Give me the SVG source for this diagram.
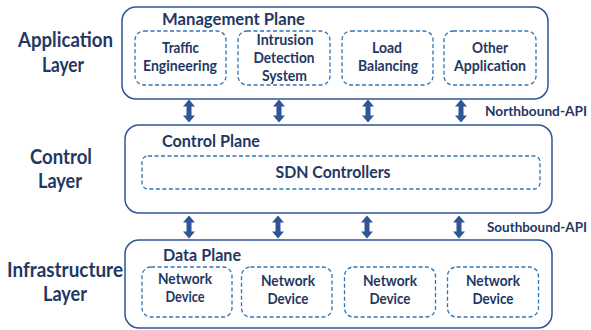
<svg xmlns="http://www.w3.org/2000/svg" width="591" height="330" viewBox="0 0 591 330">
<defs>
<style>
.outer{fill:#fff;stroke:#2F5597;stroke-width:1.5}
.inner{fill:#fff;stroke:#2E75B6;stroke-width:1.3;stroke-dasharray:4 2.5}
.t{font-family:Lato,"Open Sans","Liberation Sans",sans-serif;font-weight:bold;fill:#1F3864}
.layer{font-size:20px;text-anchor:middle}
.plane{font-size:17px}
.node{font-size:15px;text-anchor:middle}
.api{font-size:13.5px}
.arrow{fill:#2F5597}
</style>
<path id="dbl" class="arrow" d="M0,-11.5 L6,-4.5 L2.5,-4.5 L2.5,4.5 L6,4.5 L0,11.5 L-6,4.5 L-2.5,4.5 L-2.5,-4.5 L-6,-4.5 Z"/>
</defs>
<rect width="591" height="330" fill="#fff"/>

<g id="labels">
<text class="t layer" x="65.5" y="47" textLength="95" lengthAdjust="spacingAndGlyphs">Application</text>
<text class="t layer" x="63" y="72" textLength="42" lengthAdjust="spacingAndGlyphs">Layer</text>
<text class="t layer" x="61" y="164" textLength="62" lengthAdjust="spacingAndGlyphs">Control</text>
<text class="t layer" x="60" y="188" textLength="44" lengthAdjust="spacingAndGlyphs">Layer</text>
<text class="t layer" x="65" y="277" textLength="116" lengthAdjust="spacingAndGlyphs">Infrastructure</text>
<text class="t layer" x="65" y="301" textLength="44" lengthAdjust="spacingAndGlyphs">Layer</text>
<text class="t api" x="485" y="116" textLength="102" lengthAdjust="spacingAndGlyphs">Northbound-API</text>
<text class="t api" x="487" y="232" textLength="100" lengthAdjust="spacingAndGlyphs">Southbound-API</text>
</g>

<g id="management-plane">
<rect class="outer" x="122" y="7" width="426" height="92" rx="14"/>
<text class="t plane" x="162" y="25" textLength="143" lengthAdjust="spacingAndGlyphs">Management Plane</text>
</g>
<g id="traffic-engineering">
<rect class="inner" x="135" y="31" width="91" height="54" rx="9"/>
<text class="t node" x="180.5" y="53" textLength="37" lengthAdjust="spacingAndGlyphs">Traffic</text>
<text class="t node" x="180" y="71" textLength="74" lengthAdjust="spacingAndGlyphs">Engineering</text>
</g>
<g id="intrusion-detection">
<rect class="inner" x="238" y="31" width="92" height="54" rx="9"/>
<text class="t node" x="285" y="45" textLength="57" lengthAdjust="spacingAndGlyphs">Intrusion</text>
<text class="t node" x="284" y="63" textLength="61" lengthAdjust="spacingAndGlyphs">Detection</text>
<text class="t node" x="284.5" y="81" textLength="45" lengthAdjust="spacingAndGlyphs">System</text>
</g>
<g id="load-balancing">
<rect class="inner" x="342" y="31" width="91" height="54" rx="9"/>
<text class="t node" x="387" y="53" textLength="30" lengthAdjust="spacingAndGlyphs">Load</text>
<text class="t node" x="388" y="71" textLength="60" lengthAdjust="spacingAndGlyphs">Balancing</text>
</g>
<g id="other-application">
<rect class="inner" x="444" y="31" width="92" height="54" rx="9"/>
<text class="t node" x="490" y="53" textLength="36" lengthAdjust="spacingAndGlyphs">Other</text>
<text class="t node" x="490" y="71" textLength="72" lengthAdjust="spacingAndGlyphs">Application</text>
</g>

<g id="control-plane">
<rect class="outer" x="125" y="125" width="427" height="88" rx="14"/>
<text class="t plane" x="162" y="147" textLength="98" lengthAdjust="spacingAndGlyphs">Control Plane</text>
</g>
<g id="sdn-controllers">
<rect class="inner" x="142" y="156" width="398" height="33" rx="6"/>
<text class="t" x="333" y="178" font-size="17.5" text-anchor="middle" textLength="115" lengthAdjust="spacingAndGlyphs">SDN Controllers</text>
</g>

<g id="data-plane">
<rect class="outer" x="125" y="240" width="427" height="88" rx="14"/>
<text class="t plane" x="163" y="261" textLength="78" lengthAdjust="spacingAndGlyphs">Data Plane</text>
</g>
<g id="network-device-1">
<rect class="inner" x="142" y="267" width="90" height="50" rx="9"/>
<text class="t node" x="185" y="284" textLength="54" lengthAdjust="spacingAndGlyphs">Network</text>
<text class="t node" x="185" y="302" textLength="39" lengthAdjust="spacingAndGlyphs">Device</text>
</g>
<g id="network-device-2">
<rect class="inner" x="241.5" y="267" width="90.5" height="50" rx="9"/>
<text class="t node" x="288" y="286" textLength="54" lengthAdjust="spacingAndGlyphs">Network</text>
<text class="t node" x="288" y="304" textLength="41" lengthAdjust="spacingAndGlyphs">Device</text>
</g>
<g id="network-device-3">
<rect class="inner" x="344.5" y="267" width="91" height="50" rx="9"/>
<text class="t node" x="390" y="286" textLength="54" lengthAdjust="spacingAndGlyphs">Network</text>
<text class="t node" x="390" y="304" textLength="41" lengthAdjust="spacingAndGlyphs">Device</text>
</g>
<g id="network-device-4">
<rect class="inner" x="447.5" y="267" width="91" height="50" rx="9"/>
<text class="t node" x="493" y="286" textLength="54" lengthAdjust="spacingAndGlyphs">Network</text>
<text class="t node" x="493" y="304" textLength="41" lengthAdjust="spacingAndGlyphs">Device</text>
</g>

<g id="connectors">
<use href="#dbl" x="189" y="111"/>
<use href="#dbl" x="279" y="111"/>
<use href="#dbl" x="368" y="111"/>
<use href="#dbl" x="461" y="111"/>
<use href="#dbl" x="189" y="227"/>
<use href="#dbl" x="278" y="227"/>
<use href="#dbl" x="367" y="227"/>
<use href="#dbl" x="459" y="227"/>
</g>
</svg>
